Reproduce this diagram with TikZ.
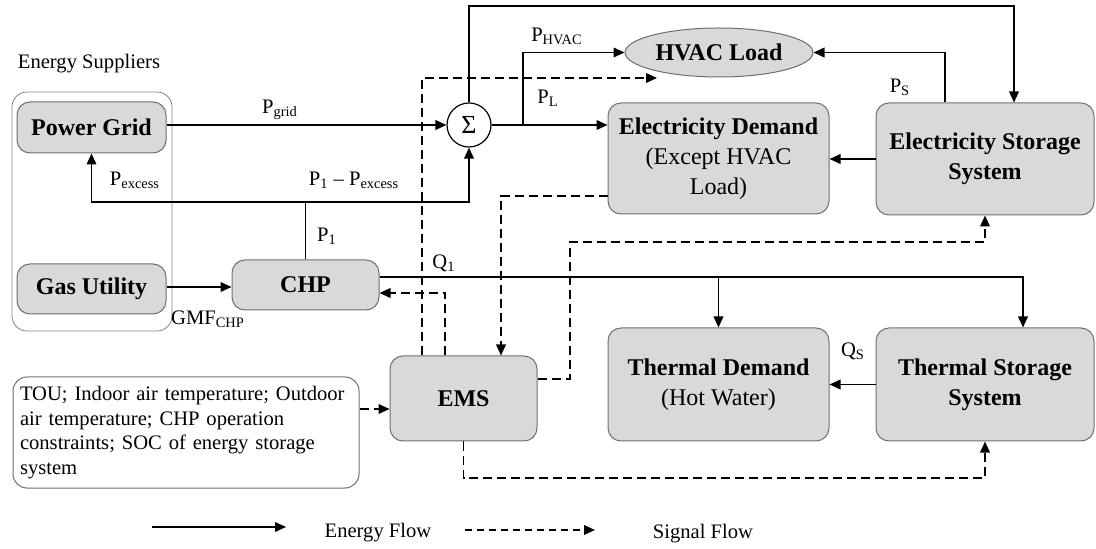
\documentclass[tikz,border=0pt]{standalone}
\usepackage{fontspec}
\setmainfont{Liberation Serif}
\usetikzlibrary{arrows.meta,shapes.geometric}
\definecolor{boxfill}{HTML}{D9D9D9}
\definecolor{boxline}{HTML}{6E6E6E}
\begin{document}
\begin{tikzpicture}[x=0.5pt,y=-0.5pt,
  blk/.style={draw=boxline,fill=boxfill,rounded corners=6.5pt,line width=0.5pt,align=center,inner sep=0pt,font=\fontsize{12}{15}\selectfont},
  flow/.style={line width=0.9pt,-{Triangle[length=5.5pt,width=4.8pt]}},
  plain/.style={line width=0.9pt},
  sig/.style={line width=0.9pt,dash pattern=on 4.5pt off 2.5pt},
  sigarr/.style={sig,-{Triangle[length=5.5pt,width=4.8pt]}},
  lbl/.style={font=\fontsize{10.3}{12.4}\selectfont,inner sep=0pt},
]
\useasboundingbox (0,0) rectangle (1096,549);

% supplier group
\node[draw=boxline!85,rounded corners=7.5pt,line width=0.4pt,minimum width=80pt,minimum height=119.5pt,inner sep=0pt] (supp) at (92,211.5) {};
\node[lbl] (suptitle) at (89,64) {Energy Suppliers};

% blocks
\node[blk,minimum width=74.5pt,minimum height=25.5pt] (grid) at (91.5,127.5) {\textbf{Power Grid}};
\node[blk,minimum width=74.5pt,minimum height=25pt] (gas) at (91.5,289) {\textbf{Gas Utility}};
\node[blk,minimum width=73.5pt,minimum height=25pt] (chp) at (305.5,285) {\textbf{CHP}};
\node[draw,fill=white,circle,minimum size=22pt,inner sep=0pt,line width=0.6pt] (sum) at (469,125) {\fontsize{13}{13}\selectfont Σ};
\node[draw=boxline,fill=boxfill,ellipse,minimum width=94pt,minimum height=24.5pt,inner sep=0pt,line width=0.5pt,font=\fontsize{12}{15}\selectfont] (hvac) at (719,52.5) {\textbf{HVAC Load}};
\node[blk,minimum width=110.5pt,minimum height=55.5pt] (ed) at (718.5,158.5) {\textbf{Electricity Demand}\\(Except HVAC\\Load)};
\node[blk,minimum width=109pt,minimum height=56pt] (es) at (985,159) {\textbf{Electricity Storage}\\\textbf{System}};
\node[blk,minimum width=73.5pt,minimum height=42.5pt] (ems) at (463.5,398.5) {\textbf{EMS}};
\node[blk,minimum width=110.5pt,minimum height=56.5pt] (td) at (718.5,384.5) {\textbf{Thermal Demand}\\(Hot Water)};
\node[blk,minimum width=109pt,minimum height=56.5pt] (ts) at (985,384.5) {\textbf{Thermal Storage}\\\textbf{System}};
\node[draw=boxline,rounded corners=7pt,line width=0.5pt,minimum width=173pt,minimum height=55.5pt,inner ysep=0pt,inner xsep=3.5pt,text width=166pt,align=left,font=\fontsize{10.3}{12.35}\selectfont] (info) at (186,432.5) {TOU; Indoor air temperature; Outdoor\\air temperature; CHP operation\\constraints; SOC of energy storage\\system};

% energy flows
\draw[flow] (grid.east |- sum.west) -- (sum.west);
\coordinate (j1) at (305.5,202);
\draw[plain] (chp.north) -- (j1);
\draw[flow] (j1) -| (grid.south);
\draw[flow] (j1) -| (sum.south);
\coordinate (top) at (1014,6);
\draw[flow] (sum.north) |- (top) -- (top |- es.north);
\draw[flow] (sum.east) -- (ed.west |- sum.east);
\coordinate (b1) at (523,125);
\draw[flow] (b1) |- (hvac.west);
\draw[flow] ([xshift=-20pt]es.north) |- (hvac.east);
\draw[flow] (es.west) -- (ed.east |- es.west);
\coordinate (gy) at (0,287);
\draw[flow] (gas.east |- gy) -- (chp.west |- gy);
\coordinate (q1) at (1023,277);
\draw[flow] (chp.east |- q1) -- (q1) -- (q1 |- ts.north);
\draw[flow] (td.north |- q1) -- (td.north);
\draw[flow] (ts.west) -- (td.east |- ts.west);

% signal flows
\coordinate (hs) at (657,78);
\coordinate (s1) at (422,78);
\draw[sigarr] (ems.north -| s1) -- (s1) -- (hs);
\coordinate (s2) at (445,293);
\draw[sigarr] (ems.north -| s2) -- (s2) -- (chp.east |- s2);
\coordinate (s3) at (501,196);
\draw[sigarr] (ed.west |- s3) -- (s3) -- (s3 |- ems.north);
\coordinate (s4) at (570,379);
\coordinate (s5) at (570,242);
\draw[sigarr] (ems.east |- s4) -- (s4) -- (s5) -| (es.south);
\coordinate (s6) at (463.5,478);
\draw[sigarr] (ems.south) -- (s6) -| (ts.south);
\coordinate (s7) at (390,409);
\draw[sigarr] (info.east |- s7) -- (ems.west |- s7);

% labels
\node[lbl] (lgrid) at (280,110) {P\textsubscript{grid}};
\node[lbl] (lexc) at (135,180) {P\textsubscript{excess}};
\node[lbl] (ldiff) at (354,180) {P\textsubscript{1} – P\textsubscript{excess}};
\node[lbl] (lp1) at (327,236) {P\textsubscript{1}};
\node[lbl] (lgmf) at (208,319) {GMF\textsubscript{CHP}};
\node[lbl] (lq1) at (444,263) {Q\textsubscript{1}};
\node[lbl] (lpl) at (548,98) {P\textsubscript{L}};
\node[lbl] (lphvac) at (557,36) {P\textsubscript{HVAC}};
\node[lbl] (lps) at (900,87) {P\textsubscript{S}};
\node[lbl] (lqs) at (853,351) {Q\textsubscript{S}};

% legend
\coordinate (le1) at (152,527);
\coordinate (le2) at (286,527);
\draw[flow] (le1) -- (le2);
\node[lbl] (lef) at (378,533) {Energy Flow};
\coordinate (ls1) at (465,530);
\coordinate (ls2) at (595,530);
\draw[sig,dash pattern=on 3.5pt off 2.5pt,-{Triangle[length=5.5pt,width=4.8pt]}] (ls1) -- (ls2);
\node[lbl] (lsf) at (703,534) {Signal Flow};
\end{tikzpicture}
\end{document}
